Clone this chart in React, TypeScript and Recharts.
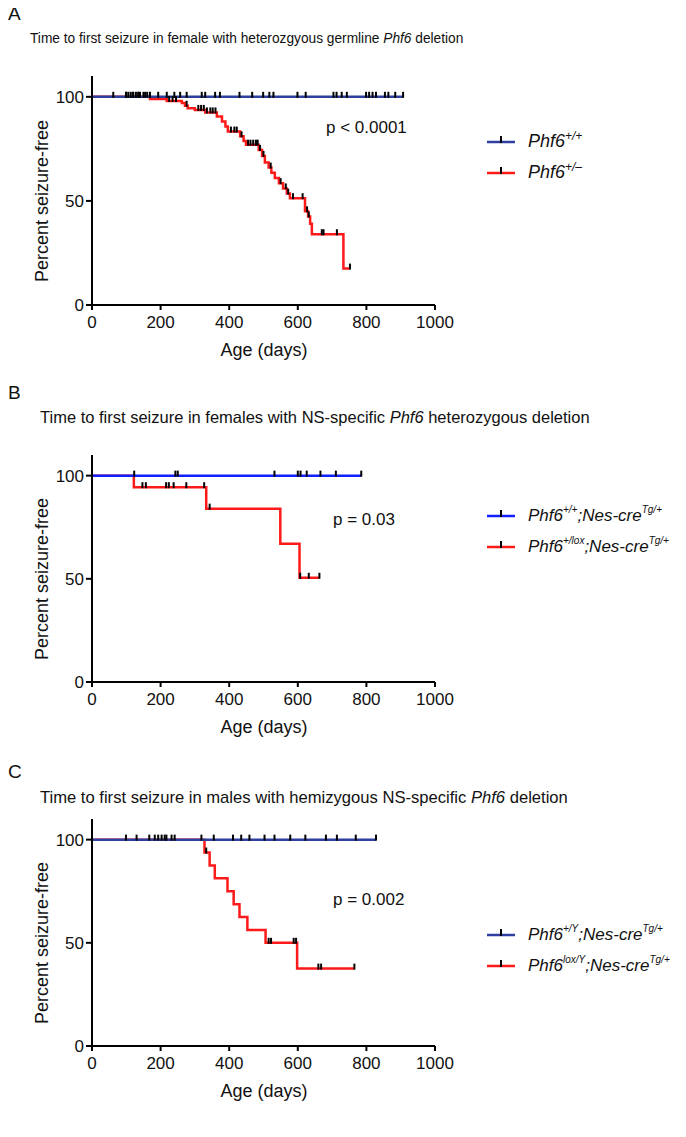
import React from 'react';
import { ComposedChart, Line, Scatter, XAxis, YAxis } from 'recharts';

type Pt = { t: number; s: number };

const xTicks = [0, 200, 400, 600, 800, 1000];
const yTicks = [0, 50, 100];

// A: germline Phf6 deletion, females
const aWtCurve: [number, number][] = [[0, 100], [907, 100]];
const aWtCensor = [62, 99, 106, 113, 120, 128, 135, 140, 155, 161, 169, 193, 218, 240, 257, 276, 320, 330, 359, 373,
  430, 467, 499, 517, 529, 599, 623, 704, 713, 728, 743, 799, 808, 818, 828, 854, 864, 884, 907];
const aHetCurve: [number, number][] = [
  [0, 100], [169, 99], [218, 98], [262, 97], [271, 95.7], [279, 94.5], [300, 93.7], [330, 92.5], [364, 90.5],
  [379, 88.2], [389, 85.7], [396, 83.3], [432, 81], [442, 78.8], [449, 77], [486, 74.5], [496, 71.6], [504, 68.5],
  [515, 66], [523, 63.5], [533, 61], [545, 58.5], [557, 56], [568, 53.5], [577, 51.3], [621, 45], [630, 42.5],
  [636, 39], [641, 34], [733, 17.5], [752, 17.5]];
const aHetCensor = [100, 120, 135, 150, 225, 235, 245, 276, 310, 318, 326, 335, 345, 352, 360, 405, 415, 422, 436,
  455, 462, 470, 478, 483, 490, 500, 521, 550, 565, 572, 586, 614, 627, 632, 670, 675, 714, 752];

// B: NS-specific heterozygous, females
const bWtCurve: [number, number][] = [[0, 100], [785, 100]];
const bWtCensor = [123, 243, 250, 532, 600, 608, 626, 666, 711, 785];
const bLoxCurve: [number, number][] = [[0, 100], [122, 94.4], [333, 84], [549, 67], [605, 50.5], [663, 50.5]];
const bLoxCensor = [147, 157, 216, 224, 238, 275, 327, 343, 607, 632, 663];

// C: NS-specific hemizygous, males
const cWtCurve: [number, number][] = [[0, 100], [828, 100]];
const cWtCensor = [99, 130, 167, 183, 193, 203, 212, 217, 232, 241, 319, 355, 411, 435, 459, 503, 532, 578, 622,
  682, 714, 769, 828];
const cLoxCurve: [number, number][] = [
  [0, 100], [328, 93.75], [343, 87.5], [358, 81.25], [395, 75], [413, 68.75], [430, 62.5], [453, 56.25],
  [506, 50], [598, 37.5], [765, 37.5]];
const cLoxCensor = [333, 515, 522, 588, 595, 660, 668, 765];

const RED = '#ff1a1a';
const NAVY = '#2e3f9f';
const BRIGHT_BLUE = '#1020ff';
const FONT = '"Liberation Sans", Arial, sans-serif';

const toPts = (c: [number, number][]): Pt[] => c.map(([t, s]) => ({ t, s }));
const levelAt = (c: [number, number][], t: number) => {
  let s = c[0][1];
  for (const [ct, cs] of c) if (ct <= t) s = cs;
  return s;
};
const censorPts = (c: [number, number][], times: number[]): Pt[] => times.map((t) => ({ t, s: levelAt(c, t) }));

const CensorTick = (props: any) => {
  const { cx, cy } = props;
  if (cx == null || cy == null) return <g />;
  return <line x1={cx} x2={cx} y1={cy + 1} y2={cy - 5} stroke="#000" strokeWidth={2} />;
};

interface Series {
  curve: [number, number][];
  censor: number[];
  color: string;
}

interface PanelProps {
  plotTop: number;
  plotBottom: number;
  upper: Series;
  lower: Series;
}

const MARGIN_TOP = 10;
const X_AXIS_H = 55;

const Panel: React.FC<PanelProps> = ({ plotTop, plotBottom, upper, lower }) => {
  const h = MARGIN_TOP + (plotBottom - plotTop) + X_AXIS_H;
  return (
    <div style={{ position: 'absolute', left: 0, top: plotTop - MARGIN_TOP }}>
      <ComposedChart width={455} height={h} margin={{ top: MARGIN_TOP, right: 20, left: 52, bottom: 0 }}>
        <XAxis
          type="number"
          dataKey="t"
          domain={[0, 1000]}
          ticks={xTicks}
          height={X_AXIS_H}
          tickSize={5}
          tickMargin={6}
          stroke="#000"
          axisLine={{ stroke: '#000', strokeWidth: 2 }}
          tickLine={{ stroke: '#000', strokeWidth: 2 }}
          tick={{ fill: '#111', fontSize: 17, fontFamily: FONT }}
          allowDataOverflow
        />
        <YAxis
          type="number"
          dataKey="s"
          domain={[0, 110]}
          ticks={yTicks}
          width={40}
          tickSize={6}
          tickMargin={2}
          stroke="#000"
          axisLine={{ stroke: '#000', strokeWidth: 2 }}
          tickLine={{ stroke: '#000', strokeWidth: 2 }}
          tick={{ fill: '#111', fontSize: 17, fontFamily: FONT }}
          allowDataOverflow
        />
        <Line data={toPts(lower.curve)} dataKey="s" type="stepAfter" stroke={lower.color} strokeWidth={2.5}
          dot={false} activeDot={false} isAnimationActive={false} />
        <Line data={toPts(upper.curve)} dataKey="s" type="stepAfter" stroke={upper.color} strokeWidth={2.5}
          dot={false} activeDot={false} isAnimationActive={false} />
        <Scatter data={censorPts(lower.curve, lower.censor)} dataKey="s" shape={<CensorTick />} isAnimationActive={false} />
        <Scatter data={censorPts(upper.curve, upper.censor)} dataKey="s" shape={<CensorTick />} isAnimationActive={false} />
      </ComposedChart>
    </div>
  );
};

const Txt: React.FC<{ x: number; y: number; size: number; children: React.ReactNode; style?: React.CSSProperties }> = ({
  x, y, size, children, style,
}) => (
  <div style={{ position: 'absolute', left: x, top: y - size * 0.6, fontSize: size, lineHeight: 1.2, whiteSpace: 'nowrap', color: '#111', ...style }}>
    {children}
  </div>
);

const LegendRow: React.FC<{ y: number; color: string; size: number; children: React.ReactNode }> = ({ y, color, size, children }) => (
  <>
    <svg style={{ position: 'absolute', left: 486, top: y - 8 }} width={30} height={12}>
      <line x1={1} x2={29} y1={8} y2={8} stroke={color} strokeWidth={2.5} />
      <line x1={15} x2={15} y1={9} y2={2} stroke="#000" strokeWidth={2} />
    </svg>
    <Txt x={528} y={y} size={size} style={{ fontStyle: 'italic' }}>{children}</Txt>
  </>
);

const YLabel: React.FC<{ cy: number }> = ({ cy }) => (
  <div style={{ position: 'absolute', left: 42, top: cy, transform: 'translate(-50%, -50%) rotate(-90deg)', fontSize: 18, whiteSpace: 'nowrap', color: '#111' }}>
    Percent seizure-free
  </div>
);

const XLabel: React.FC<{ cy: number }> = ({ cy }) => (
  <div style={{ position: 'absolute', left: 264, top: cy, transform: 'translate(-50%, -50%)', fontSize: 18, whiteSpace: 'nowrap', color: '#111' }}>
    Age (days)
  </div>
);

const sup = (s: string, size = 12) => (
  <sup style={{ fontSize: size, verticalAlign: 'top', position: 'relative', top: -2 }}>{s}</sup>
);

export default function App() {
  return (
    <div style={{ position: 'relative', width: 686, height: 1137, margin: -8, background: '#fff', fontFamily: FONT, overflow: 'hidden' }}>
      {/* A */}
      <Txt x={8} y={14} size={19}>A</Txt>
      <Txt x={30} y={38} size={15.5} style={{ transform: 'scaleX(0.885)', transformOrigin: 'left center' }}>
        Time to first seizure in female with heterozgyous germline <i>Phf6</i> deletion
      </Txt>
      <Panel plotTop={76} plotBottom={305}
        upper={{ curve: aWtCurve, censor: aWtCensor, color: NAVY }}
        lower={{ curve: aHetCurve, censor: aHetCensor, color: RED }} />
      <YLabel cy={201} />
      <XLabel cy={350} />
      <Txt x={326} y={128} size={17}>p &lt; 0.0001</Txt>
      <LegendRow y={142} color={NAVY} size={18}>Phf6{sup('+/+')}</LegendRow>
      <LegendRow y={173} color={RED} size={18}>Phf6{sup('+/\u2013')}</LegendRow>

      {/* B */}
      <Txt x={8} y={393} size={19}>B</Txt>
      <Txt x={40} y={418} size={16.5}>
        Time to first seizure in females with NS-specific <i>Phf6</i> heterozygous deletion
      </Txt>
      <Panel plotTop={455} plotBottom={682}
        upper={{ curve: bWtCurve, censor: bWtCensor, color: BRIGHT_BLUE }}
        lower={{ curve: bLoxCurve, censor: bLoxCensor, color: RED }} />
      <YLabel cy={579} />
      <XLabel cy={727} />
      <Txt x={333} y={520} size={17}>p = 0.03</Txt>
      <LegendRow y={516} color={BRIGHT_BLUE} size={17}>Phf6{sup('+/+', 10)};Nes-cre{sup('Tg/+', 10)}</LegendRow>
      <LegendRow y={547} color={RED} size={17}>Phf6{sup('+/lox', 10)};Nes-cre{sup('Tg/+', 10)}</LegendRow>

      {/* C */}
      <Txt x={8} y={772} size={19}>C</Txt>
      <Txt x={40} y={798} size={16.6}>
        Time to first seizure in males with hemizygous NS-specific <i>Phf6</i> deletion
      </Txt>
      <Panel plotTop={819} plotBottom={1046}
        upper={{ curve: cWtCurve, censor: cWtCensor, color: NAVY }}
        lower={{ curve: cLoxCurve, censor: cLoxCensor, color: RED }} />
      <YLabel cy={943} />
      <XLabel cy={1091} />
      <Txt x={333} y={900} size={17}>p = 0.002</Txt>
      <LegendRow y={935} color={NAVY} size={17}>Phf6{sup('+/Y', 10)};Nes-cre{sup('Tg/+', 10)}</LegendRow>
      <LegendRow y={966} color={RED} size={17}>Phf6{sup('lox/Y', 10)};Nes-cre{sup('Tg/+', 10)}</LegendRow>
    </div>
  );
}
